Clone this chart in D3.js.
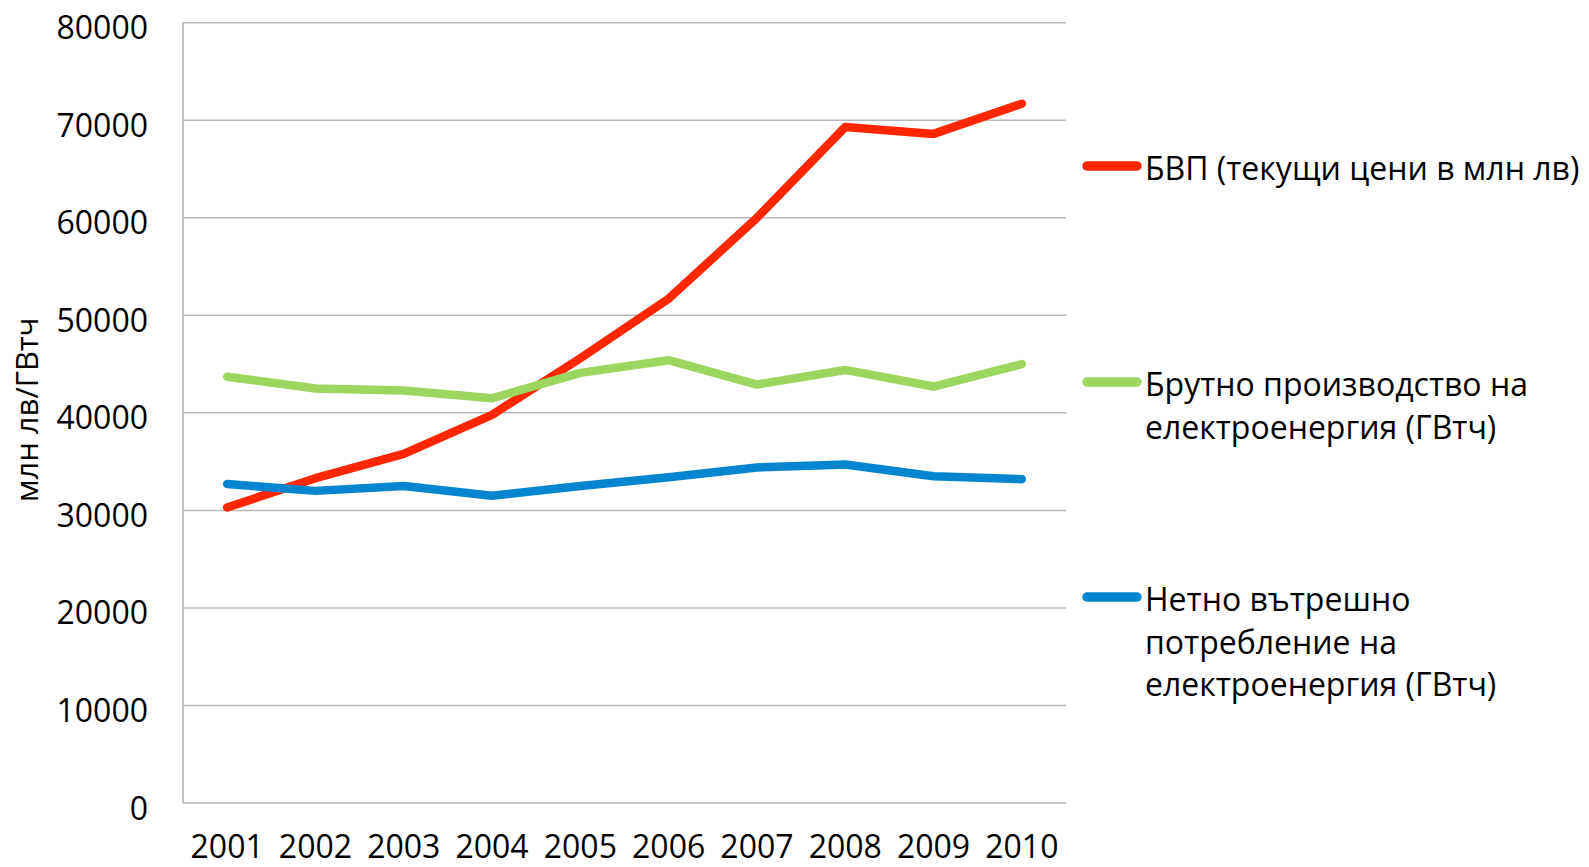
<!DOCTYPE html>
<meta charset="utf-8">
<style>
body { margin: 0; background: #fff; }
text { font-family: "Open Sans", sans-serif; fill: #000; }
</style>
<svg></svg>
<script src="https://d3js.org/d3.v7.min.js"></script>
<script>
var width = 1589
var height = 867

var years = ['2001', '2002', '2003', '2004', '2005', '2006', '2007', '2008', '2009', '2010']
var gdp = [30300, 33300, 35800, 39800, 45600, 51700, 60000, 69300, 68600, 71700]
var production = [43700, 42500, 42300, 41500, 44100, 45400, 42900, 44400, 42700, 45000]
var consumption = [32700, 32000, 32500, 31500, 32500, 33400, 34400, 34700, 33500, 33200]
var yTicks = [0, 10000, 20000, 30000, 40000, 50000, 60000, 70000, 80000]

var series = [
  { name: ['БВП (текущи цени в млн лв)'], values: gdp, color: '#ff2600', legendY: 166 },
  { name: ['Брутно производство на', 'електроенергия (ГВтч)'], values: production, color: '#9cd65e', legendY: 382 },
  { name: ['Нетно вътрешно', 'потребление на', 'електроенергия (ГВтч)'], values: consumption, color: '#0585d0', legendY: 597 }
]

var svg = d3.select('svg')
  .attr('width', width)
  .attr('height', height)

var x = d3.scalePoint()
  .domain(years)
  .range([183, 1066])
  .padding(0.5)

var y = d3.scaleLinear()
  .domain([0, 80000])
  .range([803, 22.7])

// gridlines
svg.append('g')
  .selectAll('line')
  .data(yTicks)
  .enter().append('line')
  .attr('x1', 183)
  .attr('x2', 1066)
  .attr('y1', function (d) { return y(d) })
  .attr('y2', function (d) { return y(d) })
  .attr('stroke', '#b8b8b8')
  .attr('stroke-width', 1.5)

// y axis line
svg.append('line')
  .attr('x1', 183).attr('x2', 183)
  .attr('y1', y(80000)).attr('y2', y(0))
  .attr('stroke', '#b0b0b0')
  .attr('stroke-width', 1.5)

// y tick labels
svg.append('g')
  .selectAll('text')
  .data(yTicks)
  .enter().append('text')
  .attr('x', 148)
  .attr('y', function (d) { return y(d) + 4 })
  .attr('text-anchor', 'end')
  .attr('dominant-baseline', 'central')
  .attr('font-size', 32)
  .text(function (d) { return d })

// x tick labels
svg.append('g')
  .selectAll('text')
  .data(years)
  .enter().append('text')
  .attr('x', function (d) { return x(d) })
  .attr('y', 858)
  .attr('text-anchor', 'middle')
  .attr('font-size', 32)
  .text(function (d) { return d })

// axis title
svg.append('text')
  .attr('transform', 'translate(38,410) rotate(-90)')
  .attr('text-anchor', 'middle')
  .attr('font-size', 31)
  .text('млн лв/ГВтч')

var line = d3.line()
  .x(function (d, i) { return x(years[i]) })
  .y(function (d) { return y(d) })

svg.append('g')
  .selectAll('path')
  .data(series)
  .enter().append('path')
  .attr('d', function (s) { return line(s.values) })
  .attr('fill', 'none')
  .attr('stroke', function (s) { return s.color })
  .attr('stroke-width', 8.5)
  .attr('stroke-linejoin', 'round')
  .attr('stroke-linecap', 'round')

// legend
var legend = svg.append('g')
  .selectAll('g')
  .data(series)
  .enter().append('g')

legend.append('line')
  .attr('x1', 1087)
  .attr('x2', 1137)
  .attr('y1', function (s) { return s.legendY })
  .attr('y2', function (s) { return s.legendY })
  .attr('stroke', function (s) { return s.color })
  .attr('stroke-width', 9.5)
  .attr('stroke-linecap', 'round')

legend.each(function (s) {
  var g = d3.select(this)
  s.name.forEach(function (t, i) {
    g.append('text')
      .attr('x', 1145)
      .attr('y', s.legendY + 14 + i * 42.5)
      .attr('font-size', 32)
      .text(t)
  })
})
</script>
